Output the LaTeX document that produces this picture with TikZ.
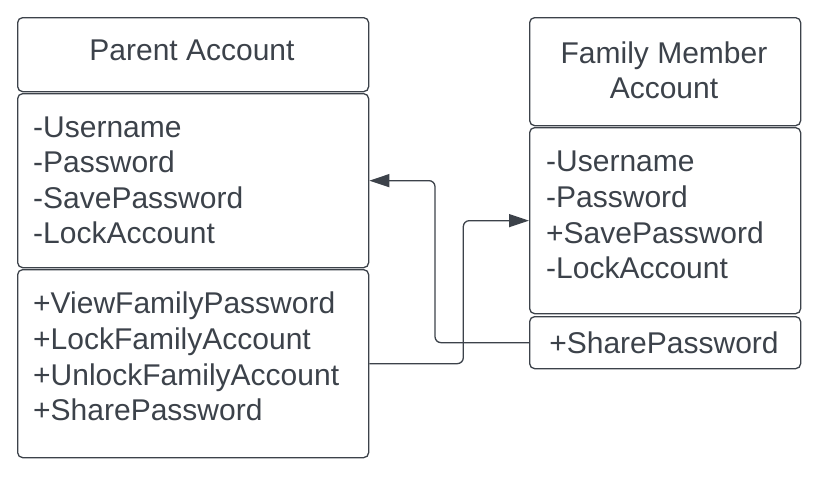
\documentclass[tikz,border=0pt]{standalone}
\usepackage{fontspec}
\setmainfont{Liberation Sans}
\usetikzlibrary{arrows.meta}
\definecolor{ink}{RGB}{60,66,74}
\tikzset{
  box/.style={draw=ink, line width=1.3pt, rounded corners=5pt, inner sep=0pt, anchor=north west},
  txt/.style={text=ink, inner sep=0pt, font=\fontsize{30}{35}\selectfont},
  lft/.style={txt, anchor=base west},
  ctr/.style={txt, anchor=base},
  arr/.style={draw=ink, line width=1.3pt, rounded corners=6pt, -{Triangle[length=20pt,width=13pt]}}
}
\begin{document}
\begin{tikzpicture}[x=1pt,y=-1pt]
\useasboundingbox (0,0) rectangle (833,477);
% Parent Account
\node[box, minimum width=351pt, minimum height=74pt] (p1) at (17,17) {};
\node[box, minimum width=351pt, minimum height=174pt] (p2) at (17,93) {};
\node[box, minimum width=351pt, minimum height=188pt] (p3) at (17,269) {};
% Family Member Account
\node[box, minimum width=271pt, minimum height=108pt] (f1) at (529,17) {};
\node[box, minimum width=271pt, minimum height=186pt] (f2) at (529,127) {};
\node[box, minimum width=271pt, minimum height=52pt] (f3) at (529,316) {};
% texts
\node[ctr] (pt) at (192,60) {Parent Account};
\node[lft] (pa1) at (33,137) {-Username};
\node[lft] (pa2) at (33,172.5) {-Password};
\node[lft] (pa3) at (33,208) {-SavePassword};
\node[lft] (pa4) at (33,243.5) {-LockAccount};
\node[lft] (pm1) at (33,313) {+ViewFamilyPassword};
\node[lft] (pm2) at (33,349) {+LockFamilyAccount};
\node[lft] (pm3) at (33,385) {+UnlockFamilyAccount};
\node[lft] (pm4) at (33,420) {+SharePassword};
\node[ctr] (ft1) at (664,63) {Family Member};
\node[ctr] (ft2) at (664,98) {Account};
\node[lft] (fa1) at (546,171) {-Username};
\node[lft] (fa2) at (546,207) {-Password};
\node[lft] (fa3) at (546,243) {+SavePassword};
\node[lft] (fa4) at (546,278) {-LockAccount};
\node[ctr] (fm1) at (664,353) {+SharePassword};
% connectors
\draw[arr] (f3.west) -- ++(-94,0) |- (p2.east);
\draw[arr] (p3.east) -- ++(94,0) |- (f2.west);
\end{tikzpicture}
\end{document}
